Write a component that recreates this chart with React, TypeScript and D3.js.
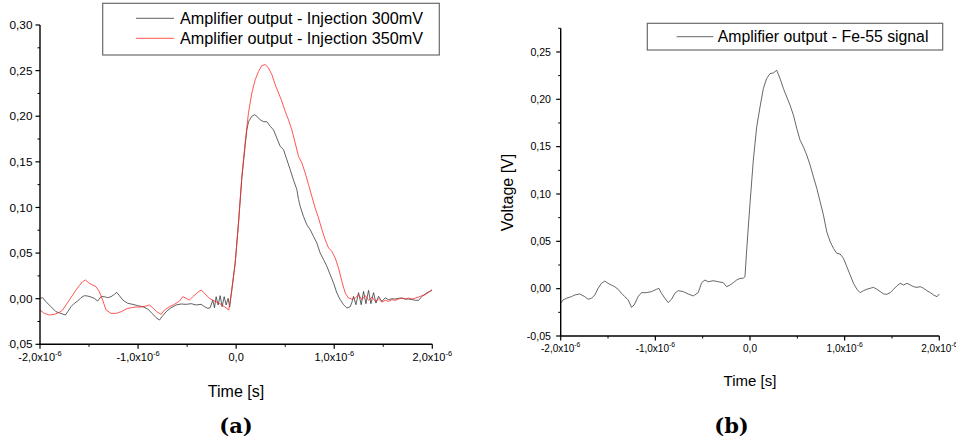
import React from 'react';
import * as d3 from 'd3';

// ---------- Data (time in µs, voltage in V) ----------
const time300 = [-2.000,-1.973,-1.939,-1.888,-1.837,-1.786,-1.741,-1.718,-1.684,-1.650,-1.616,-1.582,-1.548,-1.514,-1.480,-1.446,-1.412,-1.378,-1.344,-1.310,-1.276,-1.241,-1.218,-1.190,-1.156,-1.105,-1.054,-1.003,-0.952,-0.901,-0.857,-0.816,-0.782,-0.748,-0.707,-0.663,-0.612,-0.561,-0.510,-0.459,-0.408,-0.357,-0.323,-0.289,-0.265,-0.238,-0.221,-0.204,-0.184,-0.163,-0.143,-0.122,-0.102,-0.082,-0.066,-0.044,-0.010,0.024,0.058,0.092,0.109,0.126,0.160,0.187,0.211,0.245,0.279,0.313,0.347,0.381,0.415,0.449,0.483,0.517,0.551,0.585,0.619,0.636,0.653,0.687,0.721,0.755,0.789,0.823,0.857,0.891,0.925,0.959,0.993,1.027,1.061,1.095,1.129,1.163,1.180,1.197,1.221,1.248,1.275,1.299,1.323,1.350,1.374,1.401,1.425,1.452,1.486,1.520,1.554,1.590,1.622,1.656,1.690,1.725,1.759,1.795,1.827,1.861,1.895,1.946,1.997];
const volt300 = [0.0004,0.0011,-0.0033,-0.0088,-0.0143,-0.0161,-0.0179,-0.0143,-0.0088,-0.0051,-0.0026,0.0011,0.0033,0.0029,0.0018,0.0004,-0.0026,0.0022,0.0022,0.0011,0.0022,0.0048,0.0070,0.0033,-0.0015,-0.0051,-0.0062,-0.0077,-0.0088,-0.0113,-0.0161,-0.0208,-0.0234,-0.0186,-0.0135,-0.0099,-0.0069,-0.0058,-0.0062,-0.0055,-0.0069,-0.0062,-0.0088,-0.0106,-0.0099,-0.0015,-0.0099,0.0022,-0.0069,0.0033,-0.0088,0.0022,-0.0069,0.0004,-0.0090,0.0099,0.0390,0.0830,0.1320,0.1680,0.1850,0.1940,0.2000,0.2017,0.2000,0.1960,0.1940,0.1940,0.1890,0.1850,0.1760,0.1670,0.1634,0.1524,0.1414,0.1300,0.1195,0.1086,0.1012,0.0900,0.0810,0.0757,0.0683,0.0610,0.0500,0.0428,0.0355,0.0263,0.0172,0.0062,-0.0011,-0.0066,-0.0102,-0.0088,-0.0040,0.0026,-0.0066,0.0066,-0.0066,0.0080,-0.0055,0.0091,-0.0055,0.0066,-0.0048,0.0026,-0.0030,0.0010,-0.0011,0.0000,-0.0004,0.0005,0.0007,-0.0005,-0.0004,-0.0010,-0.0018,-0.0018,0.0026,0.0066,0.0091];

const time350 = [-2.000,-1.956,-1.905,-1.854,-1.803,-1.769,-1.735,-1.701,-1.667,-1.633,-1.599,-1.565,-1.537,-1.497,-1.463,-1.429,-1.395,-1.361,-1.327,-1.276,-1.224,-1.173,-1.122,-1.071,-1.020,-0.969,-0.918,-0.884,-0.850,-0.810,-0.765,-0.731,-0.680,-0.629,-0.578,-0.544,-0.510,-0.476,-0.442,-0.391,-0.357,-0.323,-0.272,-0.221,-0.170,-0.119,-0.075,-0.044,-0.010,0.024,0.058,0.092,0.126,0.160,0.194,0.228,0.262,0.296,0.330,0.364,0.398,0.432,0.466,0.500,0.534,0.568,0.602,0.636,0.670,0.704,0.738,0.772,0.806,0.840,0.874,0.908,0.942,0.976,1.010,1.044,1.078,1.112,1.146,1.180,1.214,1.248,1.282,1.316,1.350,1.384,1.418,1.452,1.486,1.520,1.554,1.588,1.622,1.656,1.690,1.724,1.759,1.793,1.827,1.861,1.895,1.929,1.963,1.997];
const volt350 = [-0.0124,-0.0161,-0.0179,-0.0172,-0.0150,-0.0124,-0.0069,-0.0015,0.0040,0.0095,0.0143,0.0187,0.0205,0.0168,0.0150,0.0132,0.0077,-0.0015,-0.0124,-0.0161,-0.0161,-0.0143,-0.0113,-0.0099,-0.0091,-0.0091,-0.0080,-0.0069,-0.0099,-0.0143,-0.0172,-0.0124,-0.0088,-0.0062,-0.0026,0.0022,0.0004,-0.0015,0.0022,0.0070,0.0095,0.0059,0.0004,-0.0026,-0.0051,-0.0088,-0.0124,0.0099,0.0390,0.0830,0.1340,0.1710,0.2040,0.2255,0.2400,0.2490,0.2555,0.2566,0.2530,0.2456,0.2346,0.2255,0.2164,0.2054,0.1960,0.1850,0.1707,0.1560,0.1488,0.1378,0.1250,0.1120,0.0994,0.0885,0.0757,0.0647,0.0556,0.0519,0.0446,0.0336,0.0190,0.0062,0.0007,-0.0004,0.0007,0.0044,-0.0011,0.0033,-0.0018,0.0018,-0.0029,-0.0004,-0.0037,-0.0018,-0.0029,-0.0011,-0.0018,-0.0004,0.0007,-0.0004,0.0007,-0.0004,0.0007,0.0018,0.0033,0.0044,0.0070,0.0099];

const timeFe = [-2.000,-1.975,-1.940,-1.887,-1.852,-1.799,-1.746,-1.711,-1.675,-1.640,-1.605,-1.570,-1.534,-1.499,-1.464,-1.429,-1.393,-1.358,-1.323,-1.287,-1.252,-1.224,-1.182,-1.146,-1.093,-1.041,-0.988,-0.963,-0.935,-0.899,-0.864,-0.829,-0.794,-0.758,-0.705,-0.653,-0.600,-0.547,-0.511,-0.476,-0.441,-0.388,-0.335,-0.282,-0.247,-0.212,-0.176,-0.141,-0.106,-0.071,-0.053,-0.035,0.000,0.035,0.071,0.106,0.141,0.176,0.212,0.247,0.282,0.317,0.353,0.388,0.423,0.459,0.494,0.529,0.564,0.600,0.635,0.670,0.706,0.741,0.776,0.811,0.847,0.882,0.917,0.952,0.988,1.023,1.058,1.093,1.129,1.164,1.199,1.235,1.270,1.305,1.340,1.376,1.411,1.446,1.481,1.517,1.552,1.587,1.623,1.658,1.693,1.728,1.764,1.799,1.834,1.869,1.905,1.940,1.975,2.000];
const voltFe = [-0.0154,-0.0119,-0.0102,-0.0084,-0.0067,-0.0056,-0.0084,-0.0112,-0.0102,-0.0067,0.0003,0.0056,0.0080,0.0056,0.0038,0.0021,-0.0007,-0.0049,-0.0084,-0.0119,-0.0197,-0.0172,-0.0084,-0.0042,-0.0042,-0.0031,-0.0007,0.0003,-0.0049,-0.0102,-0.0147,-0.0112,-0.0049,-0.0021,-0.0031,-0.0056,-0.0077,-0.0042,0.0063,0.0091,0.0073,0.0084,0.0073,0.0063,0.0021,0.0038,0.0063,0.0091,0.0108,0.0110,0.0127,0.0408,0.0900,0.1358,0.1710,0.1920,0.2114,0.2220,0.2272,0.2279,0.2307,0.2220,0.2114,0.2025,0.1938,0.1832,0.1692,0.1569,0.1498,0.1410,0.1305,0.1181,0.1059,0.0918,0.0777,0.0601,0.0496,0.0426,0.0373,0.0366,0.0320,0.0232,0.0145,0.0057,-0.0006,-0.0042,-0.0021,-0.0006,0.0004,0.0014,-0.0006,-0.0031,-0.0056,-0.0060,-0.0042,-0.0006,0.0029,0.0057,0.0039,0.0057,0.0039,0.0021,0.0014,0.0021,0.0004,-0.0021,-0.0042,-0.0067,-0.0085,-0.0056];

const xMajor = [-2, -1, 0, 1, 2];
const xMinor = [-1.5, -0.5, 0.5, 1.5];
const yMajorA = [-0.05, 0, 0.05, 0.1, 0.15, 0.2, 0.25, 0.3];
const yMinorA = [-0.025, 0.025, 0.075, 0.125, 0.175, 0.225, 0.275];
const yMajorB = [-0.05, 0, 0.05, 0.1, 0.15, 0.2, 0.25];
const yMinorB = [-0.025, 0.025, 0.075, 0.125, 0.175, 0.225, 0.275];

const legendA = ['Amplifier output - Injection 300mV', 'Amplifier output - Injection 350mV'];
const legendB = ['Amplifier output - Fe-55 signal'];
const xTitle = 'Time [s]';
const yTitle = 'Voltage [V]';

const SANS = '"Liberation Sans", Arial, Helvetica, sans-serif';
const SERIF = '"DejaVu Serif", "Liberation Serif", serif';

const fmtY = (v: number) => d3.format('.2f')(v).replace('.', ',').replace('\u2212', '-');
const fmtX = (t: number) => (t === 0 ? '0,0' : d3.format('.1f')(t).replace('.', ',').replace('\u2212', '-') + 'x10');

function zip(t: number[], v: number[]): [number, number][] {
  return t.map((d, i) => [d, v[i]]);
}

type PanelProps = {
  x: d3.ScaleLinear<number, number>;
  y: d3.ScaleLinear<number, number>;
  yMajor: number[];
  yMinor: number[];
  yFont: number;
  xFont: number;
  yLabelRight: number;
  xLabelBaseline: number;
  clipId?: string;
};

function Axes({ x, y, yMajor, yMinor, yFont, xFont, yLabelRight, xLabelBaseline, clipId }: PanelProps) {
  const [x0, x1] = x.range();
  const [yb, yt] = y.range();
  const ax = x0;
  return (
    <g>
      <line x1={ax} x2={ax} y1={yt} y2={yb} stroke="#000" strokeWidth={1.4} />
      <line x1={x0 - 0.7} x2={x1} y1={yb} y2={yb} stroke="#000" strokeWidth={1.4} />
      {yMajor.map((v) => (
        <line key={'ym' + v} x1={ax - 4.5} x2={ax} y1={y(v)} y2={y(v)} stroke="#000" strokeWidth={1.2} />
      ))}
      {yMinor.map((v) => (
        <line key={'yn' + v} x1={ax - 2.5} x2={ax} y1={y(v)} y2={y(v)} stroke="#000" strokeWidth={1} />
      ))}
      {xMajor.map((t) => (
        <line key={'xm' + t} x1={x(t)} x2={x(t)} y1={yb} y2={yb + 4.5} stroke="#000" strokeWidth={1.2} />
      ))}
      {xMinor.map((t) => (
        <line key={'xn' + t} x1={x(t)} x2={x(t)} y1={yb} y2={yb + 2.5} stroke="#000" strokeWidth={1} />
      ))}
      <g clipPath={clipId ? `url(#${clipId})` : undefined}>
        {yMajor.map((v) => (
          <text key={'yl' + v} x={yLabelRight} y={y(v)} dy="0.35em" textAnchor="end" fontFamily={SANS} fontSize={yFont} fill="#000">
            {fmtY(v)}
          </text>
        ))}
      </g>
      {xMajor.map((t) => (
        <text key={'xl' + t} x={x(t)} y={xLabelBaseline} textAnchor="middle" fontFamily={SANS} fontSize={xFont} fill="#000">
          {fmtX(t)}
          {t !== 0 && (
            <tspan dy={-5} fontSize={xFont * 0.68}>-6</tspan>
          )}
        </text>
      ))}
    </g>
  );
}

export default function App() {
  const xA = d3.scaleLinear().domain([-2, 2]).range([40, 432.3]);
  const yA = d3.scaleLinear().domain([-0.05, 0.3]).range([344.3, 25]);
  const xB = d3.scaleLinear().domain([-2, 2]).range([560.7, 939.3]);
  const yB = d3.scaleLinear().domain([-0.05, 0.275]).range([336, 28.3]);

  const lineA = d3.line<[number, number]>().x((d) => xA(d[0])).y((d) => yA(d[1]));
  const lineB = d3.line<[number, number]>().x((d) => xB(d[0])).y((d) => yB(d[1]));

  return (
    <svg width={956} height={445} style={{ position: 'absolute', left: 0, top: 0, background: '#fff' }}>
      <defs>
        <clipPath id="clipYA">
          <rect x={8.6} y={0} width={60} height={445} />
        </clipPath>
      </defs>
      <rect x={0} y={0} width={956} height={445} fill="#fff" />

      {/* Panel (a) */}
      <path d={lineA(zip(time300, volt300)) || ''} fill="none" stroke="#3a3a3a" strokeWidth={0.8} />
      <path d={lineA(zip(time350, volt350)) || ''} fill="none" stroke="#ff2a2a" strokeWidth={0.8} />
      <Axes x={xA} y={yA} yMajor={yMajorA} yMinor={yMinorA} yFont={11.8} xFont={11} yLabelRight={32.5} xLabelBaseline={361} clipId="clipYA" />
      <text x={236} y={397} textAnchor="middle" fontFamily={SANS} fontSize={16} fill="#000">{xTitle}</text>
      <text x={236} y={433} textAnchor="middle" fontFamily={SERIF} fontWeight="bold" fontSize={21} fill="#000">(a)</text>
      <rect x={102.7} y={3.3} width={336.6} height={51.7} fill="#fff" stroke="#6a6a6a" strokeWidth={1.2} />
      <line x1={136} x2={174} y1={18.3} y2={18.3} stroke="#3a3a3a" strokeWidth={0.8} />
      <line x1={136} x2={174} y1={38.3} y2={38.3} stroke="#ff2a2a" strokeWidth={0.8} />
      <text x={180} y={24.3} fontFamily={SANS} fontSize={16.2} fill="#000">{legendA[0]}</text>
      <text x={180} y={44.3} fontFamily={SANS} fontSize={16.2} fill="#000">{legendA[1]}</text>

      {/* Panel (b) */}
      <path d={lineB(zip(timeFe, voltFe)) || ''} fill="none" stroke="#404040" strokeWidth={0.8} />
      <Axes x={xB} y={yB} yMajor={yMajorB} yMinor={yMinorB} yFont={10.6} xFont={10} yLabelRight={551} xLabelBaseline={352} />
      <text x={750} y={386} textAnchor="middle" fontFamily={SANS} fontSize={15} fill="#000">{xTitle}</text>
      <text transform="translate(513,192.5) rotate(-90)" textAnchor="middle" fontFamily={SANS} fontSize={16} fill="#000">{yTitle}</text>
      <text x={731.5} y={433} textAnchor="middle" fontFamily={SERIF} fontWeight="bold" fontSize={21} fill="#000">(b)</text>
      <rect x={647.3} y={23.3} width={295.4} height={26.7} fill="#fff" stroke="#6a6a6a" strokeWidth={1.2} />
      <line x1={676.7} x2={713.3} y1={36.7} y2={36.7} stroke="#404040" strokeWidth={0.8} />
      <text x={717.7} y={41.8} fontFamily={SANS} fontSize={15.8} fill="#000">{legendB[0]}</text>
    </svg>
  );
}
